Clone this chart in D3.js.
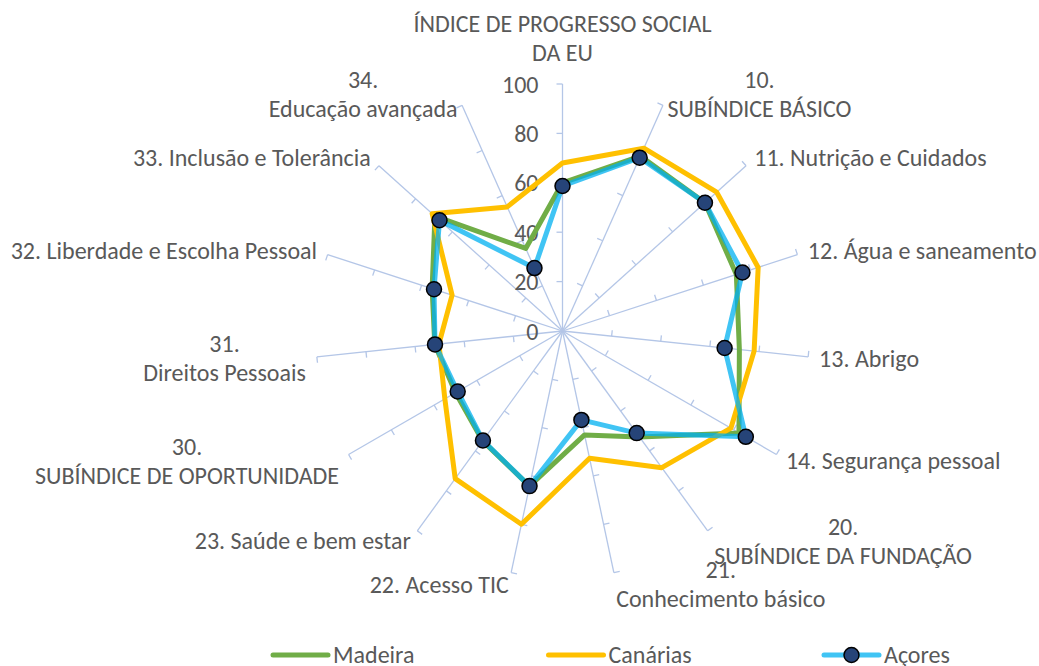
<!DOCTYPE html>
<html>
<head>
<meta charset="utf-8">
<script src="https://cdn.jsdelivr.net/npm/d3@7"></script>
<style>
  body { margin: 0; background: #fff; }
  svg { display: block; }
  text { font-family: Carlito, Calibri, Lato, sans-serif; fill: #595959; }
</style>
</head>
<body>
<svg width="1039" height="666"></svg>
<script>
// Axis labels, clockwise from the top ("\n" = line break)
var categories = [
  "ÍNDICE DE PROGRESSO SOCIAL\nDA EU",
  "10.\nSUBÍNDICE BÁSICO",
  "11. Nutrição e Cuidados",
  "12. Água e saneamento",
  "13. Abrigo",
  "14. Segurança pessoal",
  "20.\nSUBÍNDICE DA FUNDAÇÃO",
  "21.\nConhecimento básico",
  "22. Acesso TIC",
  "23. Saúde e bem estar",
  "30.\nSUBÍNDICE DE OPORTUNIDADE",
  "31.\nDireitos Pessoais",
  "32. Liberdade e Escolha Pessoal",
  "33. Inclusão e Tolerância",
  "34.\nEducação avançada"
];

var madeira  = [60, 77.5, 77.6, 74, 72, 82.5, 53, 43, 64.2, 55, 50, 52, 55.5, 69.5, 36.6];
var canarias = [68, 81, 84, 83.3, 78, 78.7, 68.4, 52.7, 80, 73.9, 55, 50.3, 47, 71, 55];
var acores   = [58.7, 76.8, 77.6, 76.6, 66, 85.7, 51.1, 36.8, 64.2, 54.8, 49, 51.9, 54.7, 67, 27.9];

var tickValues = [0, 20, 40, 60, 80, 100];

var series = [
  { name: "Madeira",  values: madeira,  color: "#70AD47", opacity: 1,    marker: false },
  { name: "Canárias", values: canarias, color: "#FFC000", opacity: 1,    marker: false },
  { name: "Açores",   values: acores,   color: "#00B0F0", opacity: 0.75, marker: true }
];

var svg = d3.select("svg"),
    cx = 562.5,
    cy = 331,
    R = 247,
    fontSize = 24;

var r = d3.scaleLinear().domain([0, 100]).range([0, R]);
var angle = d3.scaleLinear().domain([0, categories.length]).range([0, 2 * Math.PI]);

function pt(i, v) {
  var a = angle(i);
  return [cx + r(v) * Math.sin(a), cy - r(v) * Math.cos(a)];
}

// Axis spokes with tick marks on the counter-clockwise side
var axisColor = "#B4C6E7";
var axes = svg.append("g").attr("class", "axes");
categories.forEach(function(c, i) {
  var a = angle(i), end = pt(i, 100);
  axes.append("line")
      .attr("x1", cx).attr("y1", cy)
      .attr("x2", end[0]).attr("y2", end[1])
      .attr("stroke", axisColor).attr("stroke-width", 1.3);
  tickValues.slice(1).forEach(function(v) {
    var p = pt(i, v);
    axes.append("line")
        .attr("x1", p[0]).attr("y1", p[1])
        .attr("x2", p[0] - 6 * Math.cos(a)).attr("y2", p[1] - 6 * Math.sin(a))
        .attr("stroke", axisColor).attr("stroke-width", 1.3);
  });
});

// Value labels along the first axis
svg.append("g").selectAll("text")
  .data(tickValues)
  .enter().append("text")
    .attr("x", cx - 24)
    .attr("y", function(d) { return cy - r(d); })
    .attr("text-anchor", "end")
    .attr("dominant-baseline", "central")
    .style("font-size", fontSize + "px")
    .text(function(d) { return d; });

// Category labels, placed outside the end of each spoke
var lineH = 29;
categories.forEach(function(c, i) {
  var a = angle(i), end = pt(i, 100),
      s = Math.sin(a), co = Math.cos(a),
      lines = c.split("\n");
  var g = svg.append("g");
  var texts = lines.map(function(l) {
    return g.append("text")
        .attr("dominant-baseline", "central")
        .attr("text-anchor", "middle")
        .style("font-size", fontSize + "px")
        .text(l);
  });
  var w = d3.max(texts, function(t) { return t.node().getComputedTextLength(); });
  var midX, midY;
  if (Math.abs(s) < 0.1) {
    midX = end[0];
    midY = end[1] - 17 - lines.length * lineH / 2;
  } else {
    var off = 11 * Math.abs(s);
    midX = s > 0 ? end[0] + off + w / 2 : end[0] - off - w / 2;
    midY = end[1] - 12 * co;
  }
  texts.forEach(function(t, k) {
    t.attr("x", midX).attr("y", midY + (k - (lines.length - 1) / 2) * lineH);
  });
});

// Series lines
var line = d3.line().curve(d3.curveLinearClosed);
series.forEach(function(sr) {
  svg.append("path")
      .attr("d", line(sr.values.map(function(v, i) { return pt(i, v); })))
      .attr("fill", "none")
      .attr("stroke", sr.color)
      .attr("stroke-opacity", sr.opacity)
      .attr("stroke-width", 5)
      .attr("stroke-linejoin", "round");
  if (sr.marker) {
    svg.append("g").selectAll("circle")
      .data(sr.values)
      .enter().append("circle")
        .attr("cx", function(d, i) { return pt(i, d)[0]; })
        .attr("cy", function(d, i) { return pt(i, d)[1]; })
        .attr("r", 7.5)
        .attr("fill", "#264478")
        .attr("stroke", "#000")
        .attr("stroke-width", 1.5);
  }
});

// Legend
var legend = svg.append("g").selectAll("g")
  .data(series)
  .enter().append("g")
    .attr("transform", function(d, i) { return "translate(" + (273 + i * 275.5) + ",655)"; });

legend.append("line")
    .attr("x1", 0).attr("x2", 55)
    .attr("stroke", function(d) { return d.color; })
    .attr("stroke-opacity", function(d) { return d.opacity; })
    .attr("stroke-width", 5)
    .attr("stroke-linecap", "round");

legend.filter(function(d) { return d.marker; })
  .append("circle")
    .attr("cx", 27.5).attr("r", 7.5)
    .attr("fill", "#264478").attr("stroke", "#000").attr("stroke-width", 1.5);

legend.append("text")
    .attr("x", 60)
    .attr("y", -1)
    .attr("dominant-baseline", "central")
    .style("font-size", fontSize + "px")
    .text(function(d) { return d.name; });
</script>
</body>
</html>
